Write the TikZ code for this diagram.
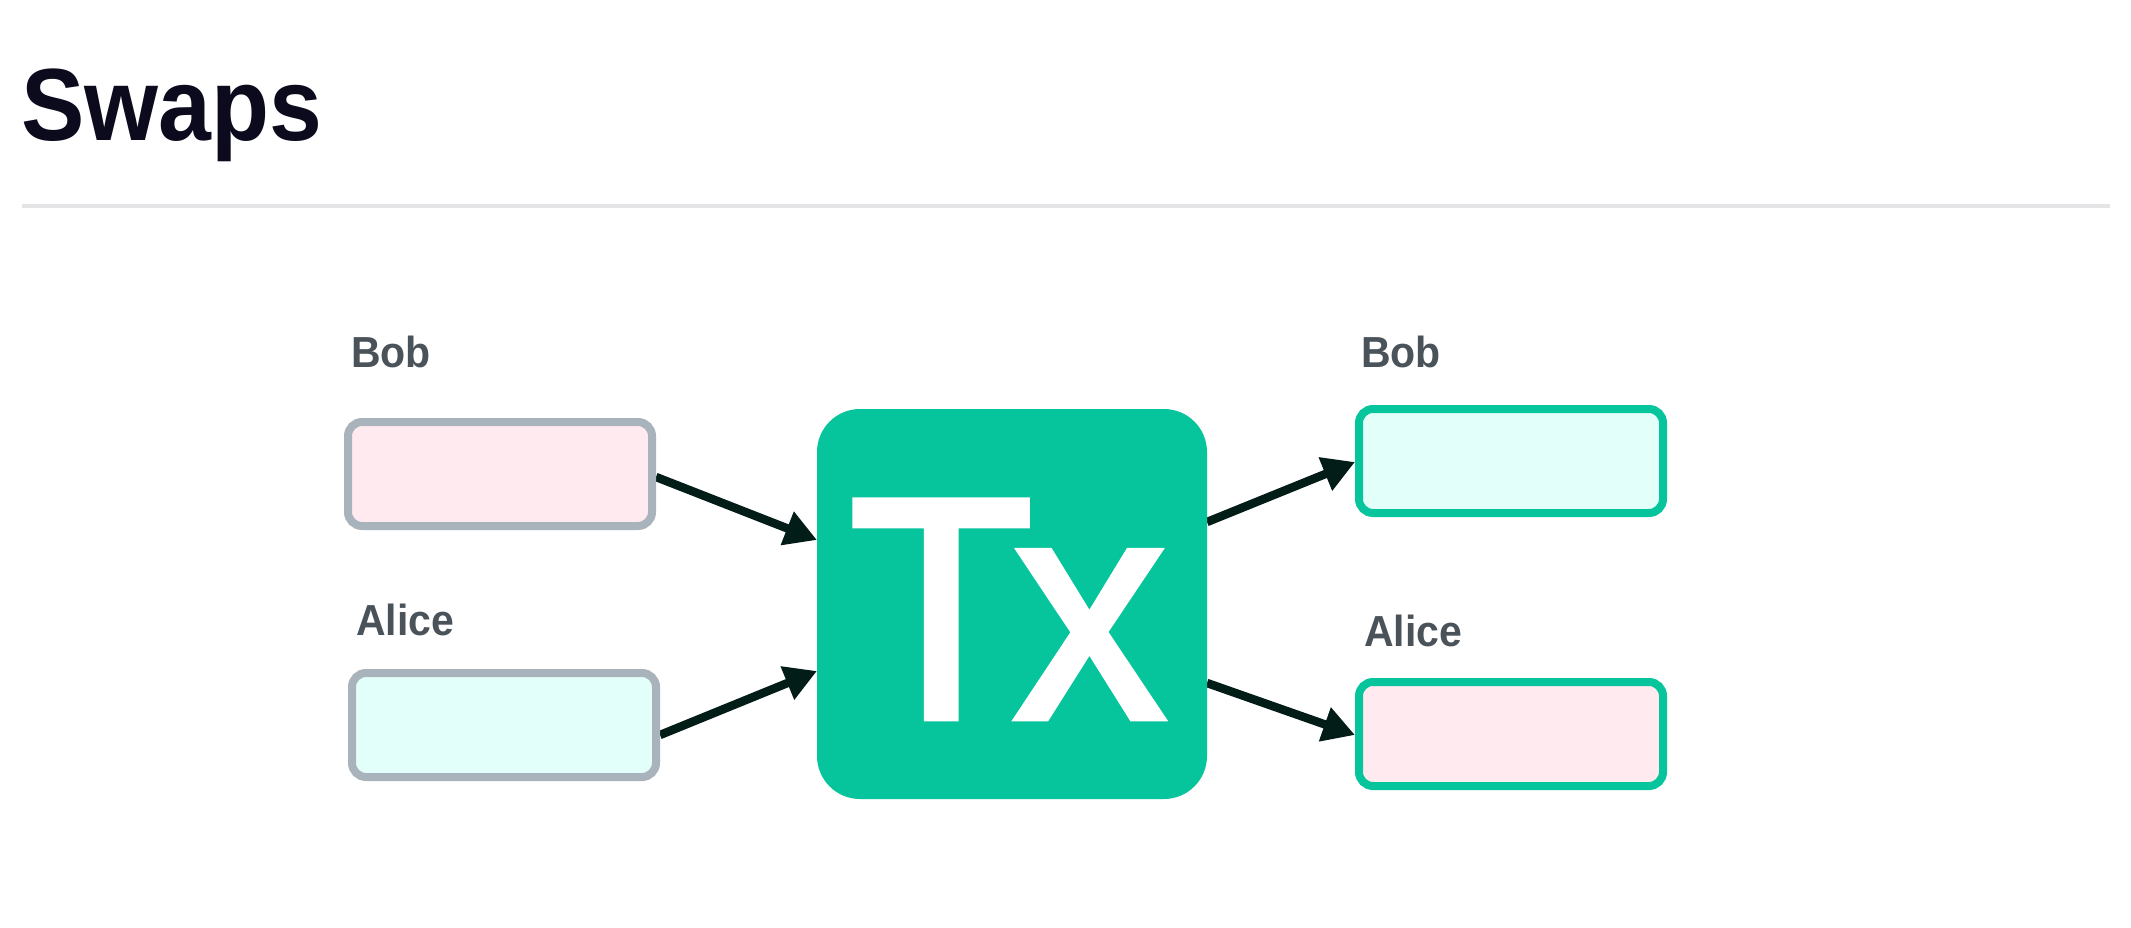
\documentclass[tikz,border=0pt]{standalone}
\usepackage{fontspec}
\setmainfont{Liberation Sans}
\usetikzlibrary{arrows.meta,calc}
\definecolor{titlec}{RGB}{11,11,29}
\definecolor{rulec}{RGB}{228,228,231}
\definecolor{labelc}{RGB}{74,83,89}
\definecolor{grayedge}{RGB}{168,179,187}
\definecolor{pinkfill}{RGB}{255,234,239}
\definecolor{cyanfill}{RGB}{227,255,249}
\definecolor{txgreen}{RGB}{6,196,155}
\definecolor{arrowc}{RGB}{2,28,23}
\pgfdeclarelayer{bg}
\pgfsetlayers{bg,main}
\begin{document}
\begin{tikzpicture}[x=1pt,y=-1pt,
  box/.style={draw, line width=8pt, rounded corners=14pt, minimum width=304pt,
    minimum height=104pt, inner sep=0pt, outer sep=4pt},
  oldbox/.style={box, draw=grayedge},
  newbox/.style={box, draw=txgreen},
  lbl/.style={anchor=base west, inner sep=0pt, text=labelc,
    font=\fontsize{41}{41}\selectfont\bfseries},
  arr/.style={draw=arrowc, line width=8.5pt, -{Triangle[length=32pt,width=34pt]}}]
\useasboundingbox (0,0) rectangle (2131,928);

% title and rule
\node[anchor=base west, inner sep=0pt, text=titlec,
  font=\fontsize{95}{95}\selectfont\bfseries] (title) at (21,141) {\scalebox{1}[1.08]{Swaps}};
\draw[rulec, line width=4pt] (22,206) -- (2110,206);

% inputs
\node[lbl] (bobLlbl) at (351,367) {\scalebox{1}[1.06]{Bob}};
\node[oldbox, fill=pinkfill] (bobL) at (500,474) {};
\node[lbl] (aliceLlbl) at (356,635) {\scalebox{1}[1.06]{Alice}};
\node[oldbox, fill=cyanfill] (aliceL) at (504,725) {};

% transaction
\node[fill=txgreen, rounded corners=43pt, minimum width=390pt, minimum height=390pt,
  inner sep=0pt, outer sep=0pt, text=white, text height=228pt, text depth=0pt,
  font=\fontsize{302}{302}\selectfont\addfontfeature{FakeBold=2.2}] (tx) at (1012,604)
  {\scalebox{1}[1.045]{T\kern-19.5pt x}\kern10pt};

% outputs
\node[lbl] (bobRlbl) at (1361,367) {\scalebox{1}[1.06]{Bob}};
\node[newbox, fill=cyanfill] (bobR) at (1511,461) {};
\node[lbl] (aliceRlbl) at (1364,646) {\scalebox{1}[1.06]{Alice}};
\node[newbox, fill=pinkfill] (aliceR) at (1511,734) {};

% connectors
\begin{pgfonlayer}{bg}
\fill[white] (0,0) rectangle (2131,928);
\draw[arr] ($(bobL.east)+(0,3)$) -- ($(tx.west)+(0,-64)$);
\draw[arr] ($(aliceL.east)+(0,10)$) -- ($(tx.west)+(0,67)$);
\draw[arr] ($(tx.east)+(0,-82)$) -- ($(bobR.west)+(0,1)$);
\draw[arr] ($(tx.east)+(0,79)$) -- ($(aliceR.west)+(0,1)$);
\end{pgfonlayer}
\end{tikzpicture}
\end{document}
